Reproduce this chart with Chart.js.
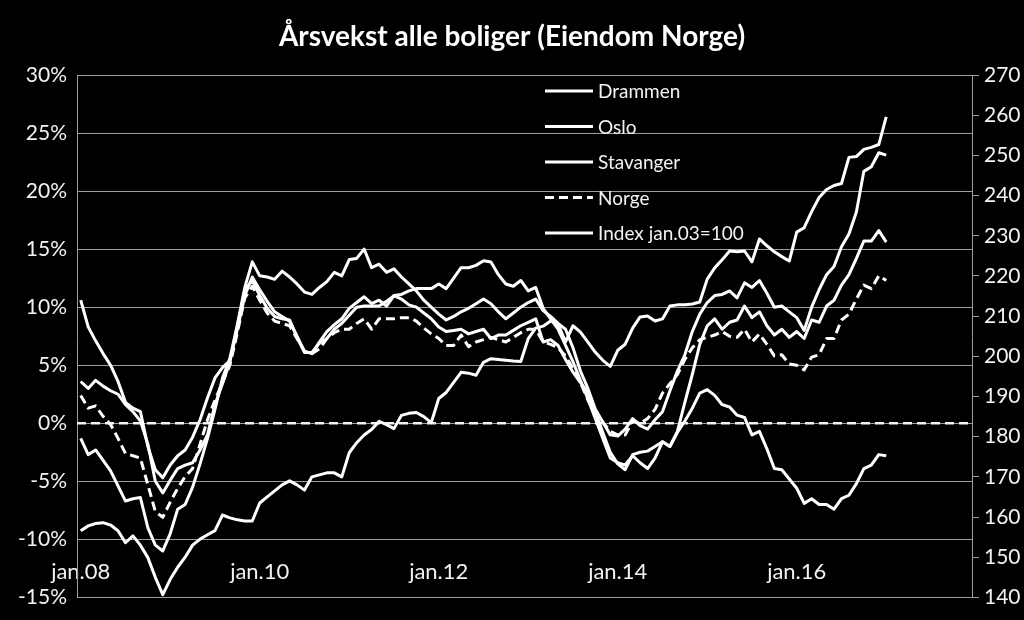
<!DOCTYPE html>
<html>
<head>
<meta charset="utf-8">
<script src="https://cdn.jsdelivr.net/npm/chart.js@4/dist/chart.umd.min.js"></script>
<style>
  html, body { margin: 0; padding: 0; background: #000; }
  canvas { display: block; }
</style>
</head>
<body>
<canvas id="chart" width="1024" height="620"></canvas>
<script>
// Monthly axis jan.08 - des.17, labels shown every second January
const years = ['08', '09', '10', '11', '12', '13', '14', '15', '16', '17'];
const months = ['jan', 'feb', 'mar', 'apr', 'mai', 'jun', 'jul', 'aug', 'sep', 'okt', 'nov', 'des'];
const labels = years.flatMap(y => months.map(m => m + '.' + y));

// Annual growth in percent, jan.08 - jan.17
const drammen = [
  3.6, 3.0, 3.7, 3.2, 2.8, 2.5, 1.6, 1.0, 0.2, -1.8, -5.0, -6.0,
  -4.9, -3.9, -3.6, -3.4, -2.3, -1.0, 1.6, 3.4, 5.3, 8.3, 11.5, 12.3,
  11.0, 9.9, 9.2, 9.0, 8.9, 7.4, 6.1, 6.1, 6.9, 7.3, 8.1, 8.6,
  9.3, 10.0, 10.1, 10.1, 10.1, 10.5, 11.0, 10.7, 10.2, 10.0, 9.5, 9.0,
  8.3, 7.9, 8.0, 8.1, 7.7, 7.9, 8.1, 7.3, 7.6, 7.6, 8.0, 8.4,
  8.7, 9.0, 7.0, 7.2, 6.7, 5.5, 4.4, 3.5, 2.7, 1.0, -0.8, -2.5,
  -3.5, -4.0, -2.7, -2.5, -2.4, -2.0, -1.6, -2.0, -0.7, 1.8, 4.2, 6.8,
  8.4, 9.0, 8.1, 8.7, 8.9, 10.1, 9.1, 9.6, 8.4, 7.6, 8.1, 7.4,
  7.9, 7.3, 8.9, 8.7, 10.1, 10.6, 11.9, 12.8, 14.2, 15.7, 15.7, 16.6,
  15.6
];
const oslo = [
  -1.3, -2.7, -2.3, -3.2, -4.1, -5.4, -6.7, -6.5, -6.4, -9.0, -10.5, -11.0,
  -9.5, -7.4, -7.0, -5.5, -3.5, -1.3, 1.2, 3.9, 5.6, 8.5, 11.7, 13.9,
  12.7, 12.6, 12.4, 13.1, 12.6, 12.0, 11.3, 11.1, 11.7, 12.2, 13.0, 12.7,
  14.1, 14.2, 15.0, 13.4, 13.7, 13.0, 13.3, 12.6, 12.0, 11.4, 10.6, 10.0,
  9.4, 8.9, 9.2, 9.6, 9.9, 10.3, 10.7, 10.3, 9.6, 9.0, 9.5, 10.0,
  10.4, 10.7, 9.7, 9.2, 8.6, 8.1, 6.5, 4.5, 3.0, 1.2, 0.1, -1.0,
  -1.1, -0.5, 0.4, -0.2, -0.5, 0.3, 1.0, 2.8, 4.5, 5.9, 7.9, 9.4,
  10.4, 11.0, 11.1, 11.4, 10.8, 12.1, 11.7, 12.3, 11.2, 10.0, 10.1, 9.6,
  9.1, 8.0, 10.0, 11.5, 12.8, 13.5, 15.2, 16.3, 18.2, 21.7, 22.1, 23.3,
  23.1
];
const stavanger = [
  10.6, 8.3, 7.1, 6.0, 5.0, 3.6, 1.8, 1.3, 1.0, -2.0, -4.0, -4.7,
  -3.6, -2.8, -2.3, -1.2, 0.3, 2.2, 3.9, 4.8, 5.4, 8.1, 11.0, 12.6,
  11.5, 10.5, 9.6, 9.2, 8.8, 7.5, 6.2, 6.0, 7.0, 7.9, 8.5, 9.0,
  9.9, 10.4, 10.9, 10.3, 10.6, 10.1, 11.0, 11.1, 11.4, 11.6, 11.6, 11.6,
  12.0, 11.6, 12.5, 13.4, 13.4, 13.6, 14.0, 13.9, 12.8, 12.0, 11.8, 12.3,
  11.4, 11.7, 9.9, 9.0, 8.1, 6.7, 5.3, 3.7, 2.1, 0.4, -1.3, -3.0,
  -3.4, -3.6, -2.8, -3.4, -3.9, -3.0, -1.6, -2.0, -0.8, 0.2, 1.3, 2.6,
  2.9, 2.4, 1.6, 1.4, 0.7, 0.5, -1.0, -0.7, -2.2, -3.9, -4.0, -4.8,
  -5.6, -6.9, -6.5, -7.0, -7.0, -7.4, -6.5, -6.2, -5.2, -3.9, -3.6, -2.7,
  -2.8
];
const norge = [
  2.4, 1.3, 1.5, 0.6, -0.1, -1.3, -2.6, -2.8, -3.0, -5.3, -7.6, -8.1,
  -6.8, -5.6, -4.6, -3.9, -1.8, 0.3, 2.0, 3.5, 5.0, 7.8, 10.8, 11.8,
  10.6, 9.5, 8.8, 8.6, 8.4, 7.3, 6.2, 6.0, 6.4, 7.3, 7.8, 8.1,
  8.1, 8.6, 9.0, 8.1, 9.0, 9.0, 9.0, 9.1, 9.1, 8.8, 8.2, 7.7,
  7.3, 6.7, 6.7, 7.6, 6.6, 7.0, 7.2, 7.4, 7.2, 7.0, 7.4, 7.8,
  8.1, 8.1, 7.0, 6.8, 6.5, 5.8, 4.7, 3.5, 2.0, 0.8, 0.1, -0.7,
  -1.0, -1.0, 0.2, 0.0, 0.4, 1.2, 2.6, 3.4, 4.2, 5.5, 6.5, 7.2,
  7.4, 7.6, 7.9, 7.5, 7.4, 8.1, 7.0, 7.7, 6.8, 5.8, 5.9, 5.1,
  5.0, 4.6, 5.7, 5.9, 7.3, 7.3, 8.9, 9.4, 10.7, 11.9, 11.6, 12.7,
  12.3
];
// Index jan.03 = 100 (right axis)
const indexJan03 = [
  156.6, 157.8, 158.4, 158.6, 158.0, 156.6, 153.6, 155.3, 153.0, 149.9, 145.0, 140.7,
  144.5, 147.5, 150.0, 153.0, 154.5, 155.6, 156.6, 160.5, 159.8, 159.3, 159.0, 159.0,
  163.5, 165.0, 166.5, 168.0, 169.0, 168.0, 166.7, 170.0, 170.5, 171.0, 171.0, 170.0,
  176.0, 178.5, 180.4, 181.8, 183.8, 183.0, 182.0, 185.3, 185.8, 186.0, 185.0, 183.5,
  189.5, 191.0, 193.5, 196.0, 195.8, 195.3, 198.5, 199.4, 199.2, 199.0, 198.8, 198.7,
  204.4, 207.0, 207.5, 208.8, 208.0, 203.6, 207.6, 206.0, 203.5, 201.0, 199.0, 197.5,
  201.5, 203.0, 207.0, 209.8, 210.0, 208.8, 209.3, 212.5, 212.8, 212.8, 213.0, 213.5,
  219.2, 222.0, 224.0, 226.2, 226.0, 226.2, 223.5, 229.2, 227.5, 226.0, 224.8, 223.7,
  230.9, 232.0, 236.0, 239.5, 241.5, 242.5, 243.0, 249.5, 249.7, 251.5, 252.0, 252.7,
  259.6
];

const FONT = 'Lato, "Open Sans", sans-serif';
const TEXT = '#f2f2f2';
const GRID = '#9d9d9d';

// dashed white line at 0 %
const zeroLine = {
  id: 'zeroLine',
  beforeDatasetsDraw(chart) {
    const { ctx, chartArea, scales } = chart;
    const y = scales.y.getPixelForValue(0);
    ctx.save();
    ctx.strokeStyle = '#f2f2f2';
    ctx.lineWidth = 2.5;
    ctx.setLineDash([9, 5]);
    ctx.beginPath();
    ctx.moveTo(chartArea.left, y);
    ctx.lineTo(chartArea.right, y);
    ctx.stroke();
    ctx.restore();
  }
};

// legend sitting inside the plot, like the original
const innerLegend = {
  id: 'innerLegend',
  afterDraw(chart) {
    const { ctx, chartArea } = chart;
    const x0 = chartArea.left + 468;
    const y0 = chartArea.top + 16;
    ctx.save();
    ctx.font = '19px ' + FONT;
    ctx.textBaseline = 'middle';
    ctx.fillStyle = TEXT;
    chart.data.datasets.forEach((ds, i) => {
      const y = y0 + i * 35.5;
      ctx.strokeStyle = '#ffffff';
      ctx.lineWidth = 3;
      ctx.setLineDash(ds.borderDash || []);
      ctx.beginPath();
      ctx.moveTo(x0, y);
      ctx.lineTo(x0 + 48, y);
      ctx.stroke();
      ctx.fillText(ds.label, x0 + 53, y + 1);
    });
    ctx.restore();
  }
};

const lineStyle = {
  borderColor: '#ffffff',
  borderWidth: 3,
  pointRadius: 0,
  fill: false,
  tension: 0,
  borderJoinStyle: 'round'
};

new Chart(document.getElementById('chart'), {
  type: 'line',
  data: {
    labels: labels,
    datasets: [
      { label: 'Drammen', data: drammen, yAxisID: 'y', ...lineStyle },
      { label: 'Oslo', data: oslo, yAxisID: 'y', ...lineStyle },
      { label: 'Stavanger', data: stavanger, yAxisID: 'y', ...lineStyle },
      { label: 'Norge', data: norge, yAxisID: 'y', ...lineStyle, borderDash: [9, 5] },
      { label: 'Index jan.03=100', data: indexJan03, yAxisID: 'y1', ...lineStyle }
    ]
  },
  options: {
    responsive: false,
    animation: false,
    layout: { padding: 0 },
    plugins: {
      legend: { display: false },
      tooltip: { enabled: false },
      title: {
        display: true,
        text: 'Årsvekst alle boliger (Eiendom Norge)',
        color: '#ffffff',
        font: { family: FONT, size: 28, weight: 'bold' },
        padding: { top: 20, bottom: 21.4 }
      }
    },
    scales: {
      x: {
        offset: true,
        grid: { display: false },
        border: { display: true, color: GRID, width: 1 },
        ticks: {
          autoSkip: false,
          maxRotation: 0,
          mirror: true,
          padding: 12,
          color: TEXT,
          font: { family: FONT, size: 22 },
          callback: (v, i) => (i % 24 === 0 ? labels[i] : '')
        },
        afterFit: s => { s.height = 20; }
      },
      y: {
        position: 'left',
        min: -15,
        max: 30,
        grid: { color: GRID, lineWidth: 1, drawTicks: false },
        border: { display: true, color: GRID, width: 1 },
        ticks: {
          stepSize: 5,
          padding: 10,
          color: TEXT,
          font: { family: FONT, size: 21 },
          callback: v => v + '%'
        },
        afterFit: s => { s.width = 77; }
      },
      y1: {
        position: 'right',
        min: 140,
        max: 270,
        grid: { drawOnChartArea: false, drawTicks: true, tickLength: 7, color: GRID },
        border: { display: true, color: GRID, width: 1 },
        ticks: {
          stepSize: 10,
          padding: 5,
          color: TEXT,
          font: { family: FONT, size: 21 }
        },
        afterFit: s => { s.width = 52; }
      }
    }
  },
  plugins: [zeroLine, innerLegend]
});
</script>
</body>
</html>
